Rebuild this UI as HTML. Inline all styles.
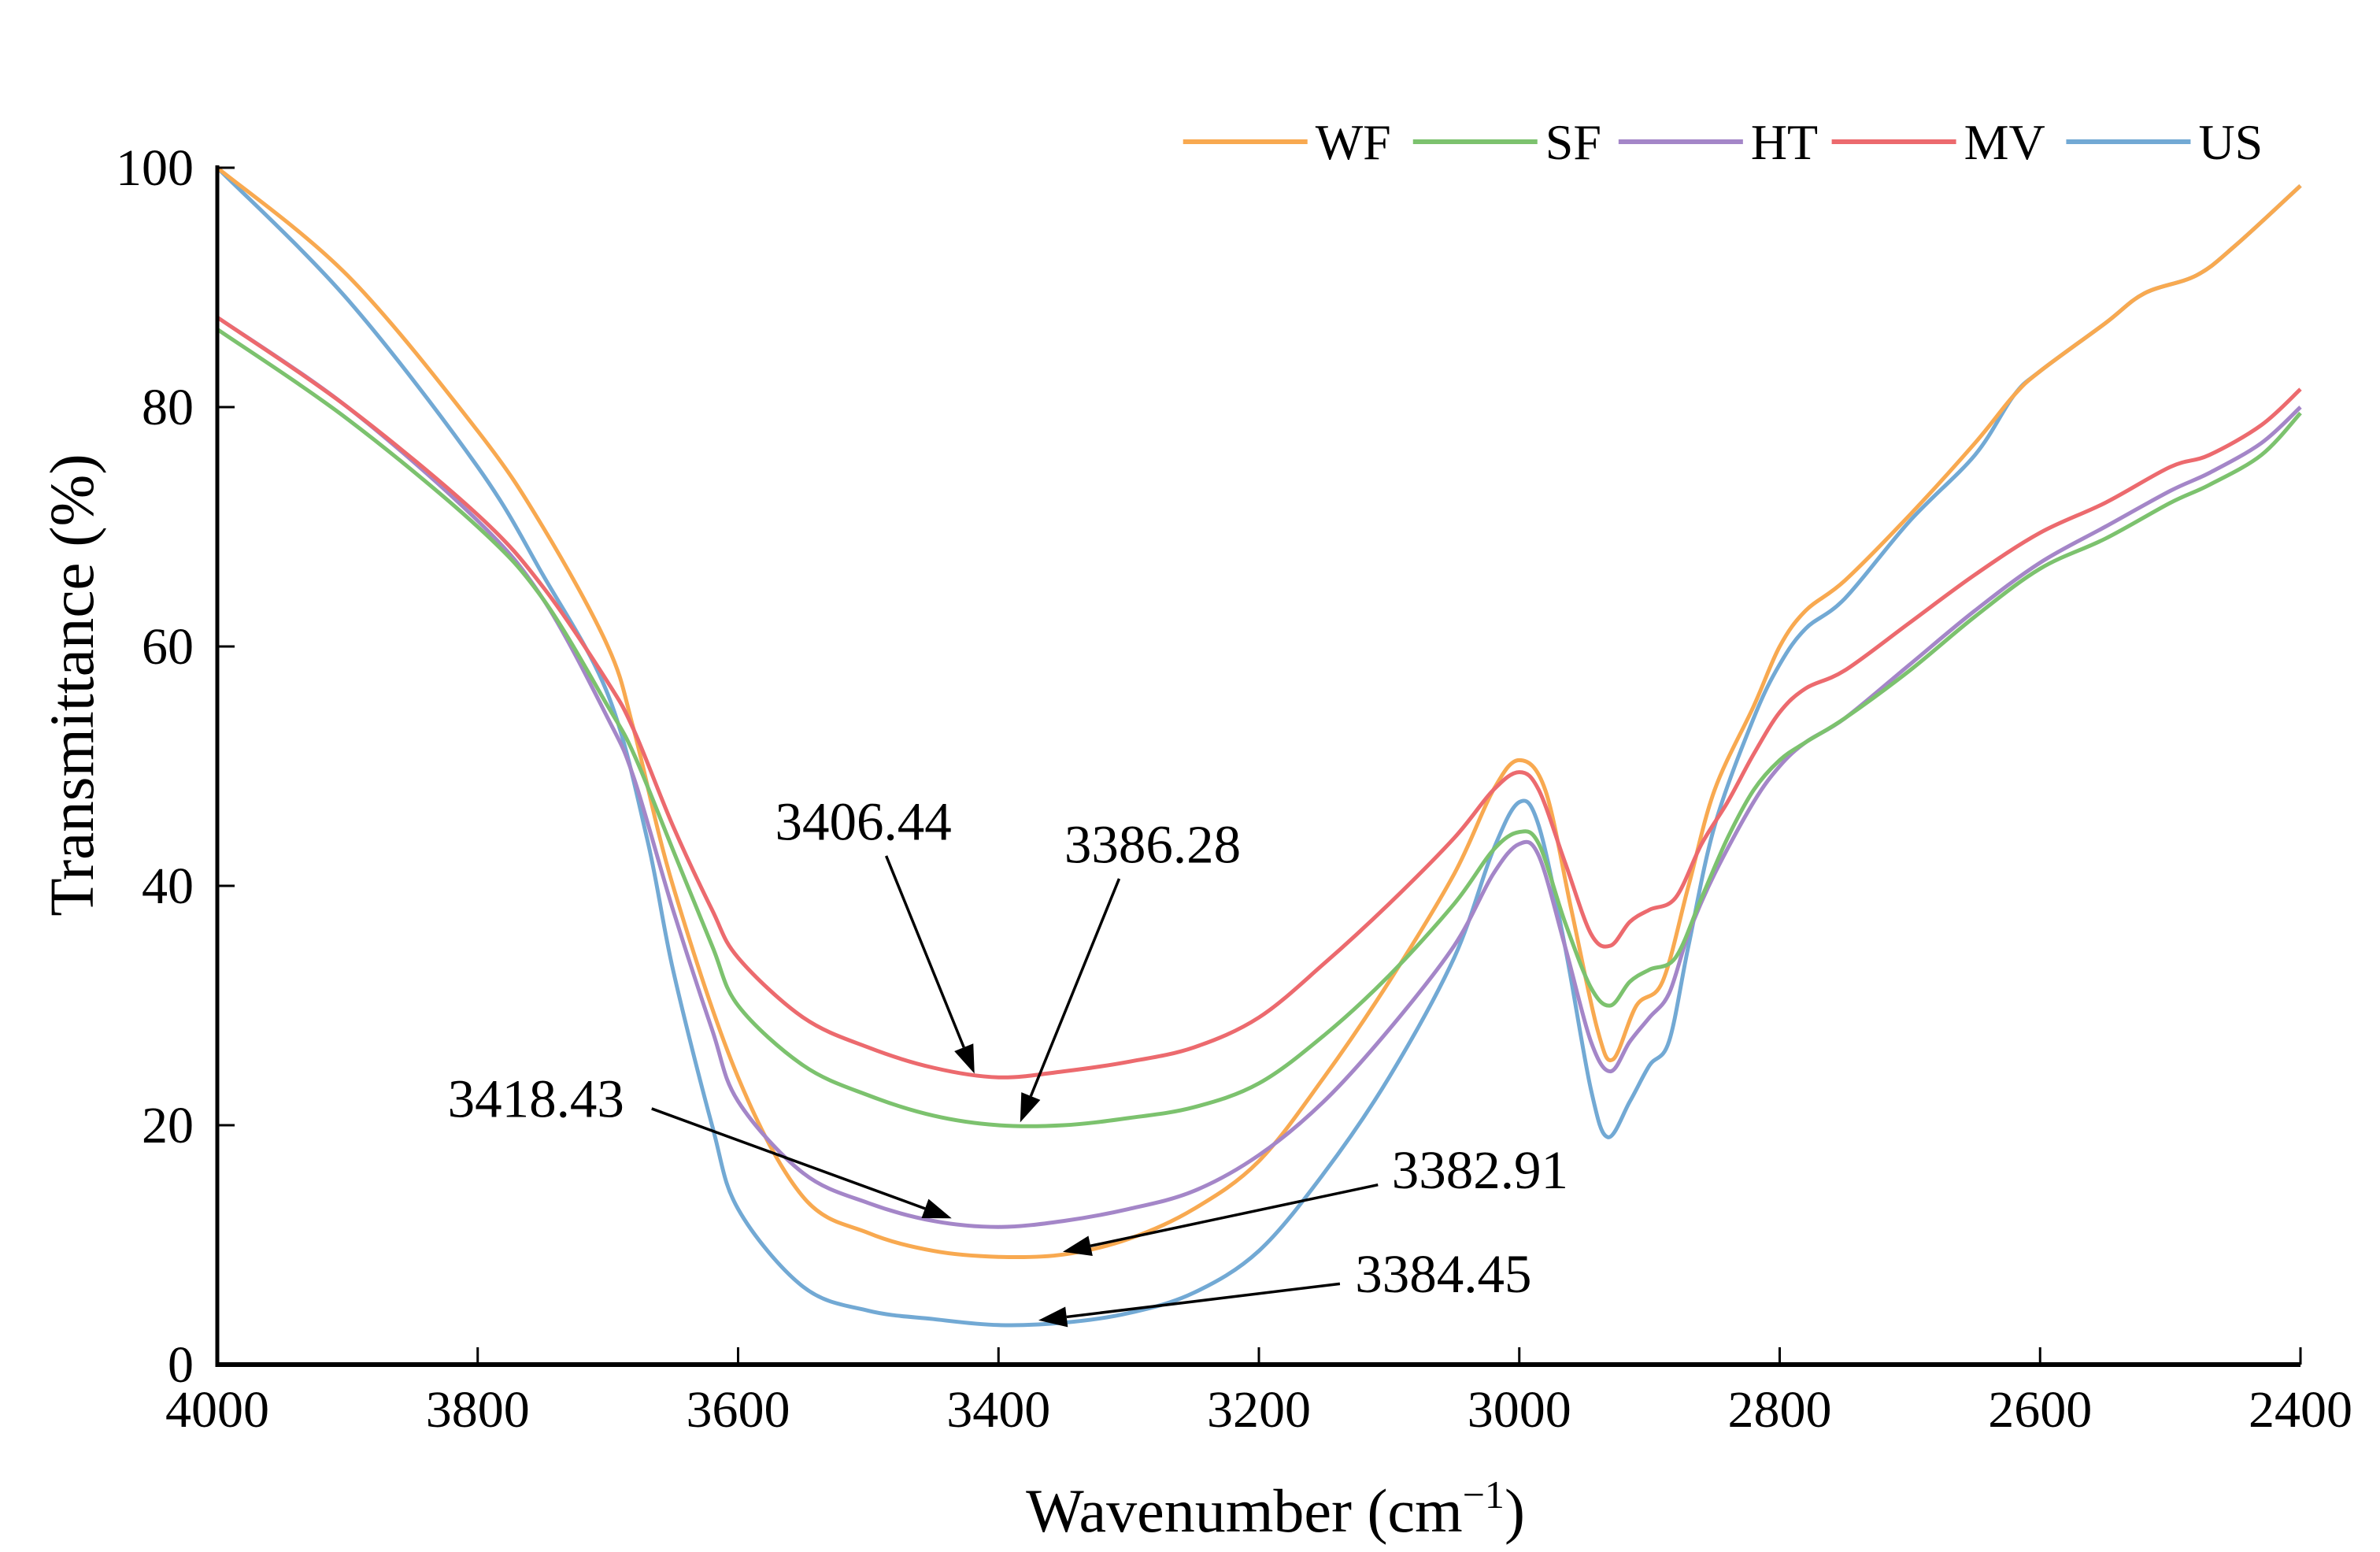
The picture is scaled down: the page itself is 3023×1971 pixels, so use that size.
<!DOCTYPE html>
<html><head><meta charset="utf-8"><style>
html,body{margin:0;padding:0;background:#fff}
svg{display:block}
text{font-family:"Liberation Serif",serif;fill:#000}
</style></head><body>
<svg id="chart" width="3023" height="1971" viewBox="0 0 3023 1971" xmlns="http://www.w3.org/2000/svg">
<g id="series"></g>
<g id="axes"></g>
<g id="ann"></g>
<g id="legend"></g>
</svg>
<script>
const xTicks=[4000,3800,3600,3400,3200,3000,2800,2600,2400];
const yTicks=[0,20,40,60,80,100];
const seriesNames=["WF","SF","HT","MV","US"];
const seriesColors=["#F8A950","#7CC26E","#A486C8","#EC6A6E","#72A9D4"];
const wfX=[4000,3900,3800,3750,3700,3680,3650,3600,3550,3500,3450,3400,3350,3300,3250,3200,3150,3100,3050,3020,3000,2980,2960,2940,2928,2910,2890,2870,2850,2820,2800,2780,2750,2700,2650,2620,2600,2550,2520,2480,2450,2400];
const wfY=[100,91,78,70,60,53,40,24,14,11,9.5,9,9.2,10.5,13,17,24,32,41,48,50.5,48,38,28,25.5,30,32,40,48,55,60,63,65.5,71,77,81,83,87,89.5,91,93.5,98.5];
const usX=[4000,3900,3800,3750,3700,3670,3650,3620,3600,3550,3500,3450,3400,3350,3300,3250,3200,3150,3100,3050,3020,3000,2985,2965,2945,2932,2915,2900,2885,2870,2850,2820,2800,2780,2750,2700,2650,2620,2600,2550,2520,2480,2450,2400];
const usY=[100,89,75,66,56,44,33,20,13,6.5,4.5,3.8,3.3,3.5,4.3,6,9.5,16,24,34,43,47,45,35,23,19,22,25,27,35,45,54,58.5,61.5,64,70.5,76,81,83,87,89.5,91,93.5,98.5];
const mvX=[4000,3900,3800,3750,3700,3680,3650,3620,3600,3550,3500,3450,3400,3350,3300,3250,3200,3150,3100,3050,3020,3000,2985,2965,2945,2930,2915,2900,2880,2860,2840,2820,2800,2780,2750,2700,2650,2600,2550,2500,2470,2430,2400];
const mvY=[87.5,80,71,65,57,53,45,38,34,29,26.5,24.8,24,24.5,25.3,26.5,29,33.5,38.5,44,48,49.5,48,42,36,35,37,38,39,43.5,47,51,54.5,56.5,58,62,66,69.5,72,75,76,78.5,81.5];
const sfX=mvX;
const sfY=[86.5,79,70,64,55,51,43,35,30,25,22.5,20.8,20,20,20.6,21.5,23.5,27.5,32.5,38.5,43,44.5,43.5,37,31.5,30,32,33,34,39,44,48,50.5,52,54,58,62.5,66.5,69,72,73.5,76,79.5];
const htX=[4000,3900,3800,3750,3700,3680,3650,3620,3600,3550,3500,3450,3400,3350,3300,3250,3200,3150,3100,3050,3020,3000,2985,2965,2945,2930,2915,2900,2885,2870,2850,2820,2800,2780,2750,2700,2650,2600,2550,2500,2470,2430,2400];
const htY=[87.5,80,70.5,64,54,49,38,28,22,16,13.5,12,11.5,12,13,14.5,17.5,22,28,35,41,43.5,42.5,35,27,24.5,27,29,31,36,41,47,50,52,54,58.5,63,67,70,73,74.5,77,80];
const annLabels=["3406.44","3386.28","3418.43","3382.91","3384.45"];

const NS="http://www.w3.org/2000/svg";
const X0=276,X1=2922,Y0=1733,Y1=213;
function sx(w){return X0+(4000-w)/(4000-2400)*(X1-X0);}
function sy(v){return Y0-v/100*(Y0-Y1);}
function mk(tag,attrs,parent){const e=document.createElementNS(NS,tag);for(const k in attrs)e.setAttribute(k,attrs[k]);parent.appendChild(e);return e;}
function smooth(pts){let d="M"+pts[0][0].toFixed(1)+","+pts[0][1].toFixed(1);
 for(let i=0;i<pts.length-1;i++){const p0=pts[Math.max(0,i-1)],p1=pts[i],p2=pts[i+1],p3=pts[Math.min(pts.length-1,i+2)];
 const c1=[p1[0]+(p2[0]-p0[0])/6,p1[1]+(p2[1]-p0[1])/6],c2=[p2[0]-(p3[0]-p1[0])/6,p2[1]-(p3[1]-p1[1])/6];
 d+=" C"+c1.map(v=>v.toFixed(1))+" "+c2.map(v=>v.toFixed(1))+" "+p2[0].toFixed(1)+","+p2[1].toFixed(1);}return d;}
const sg=document.getElementById('series');
const data=[[wfX,wfY],[sfX,sfY],[htX,htY],[mvX,mvY],[usX,usY]];
const order=[4,0,2,1,3];
order.forEach(i=>{
 const pts=data[i][0].map((w,j)=>[sx(w),sy(data[i][1][j])]);
 const p=mk('path',{fill:'none',stroke:seriesColors[i],'stroke-width':5,'stroke-linejoin':'round'},sg);
 p.setAttribute('d',"M"+sx(4000)+","+sy(0)+" L"+smooth(pts).slice(1));
 
 
});
const ax=document.getElementById('axes');
let l=mk('line',{x1:X0,y1:Y0,x2:X1,y2:Y0,stroke:'#000','stroke-width':6},ax);


l=mk('line',{x1:X0,y1:Y0+3,x2:X0,y2:Y1-3,stroke:'#000','stroke-width':5},ax);


xTicks.forEach(t=>{const x=sx(t);
 const tk=mk('line',{x1:x,y1:Y0,x2:x,y2:Y0-22,stroke:'#000','stroke-width':3},ax);
 
 
 const tx=mk('text',{x:x,y:1812,'text-anchor':'middle','font-size':66},ax);tx.textContent=t;
 
 });
yTicks.forEach(t=>{const y=sy(t);
 const tk=mk('line',{x1:X0,y1:y,x2:X0+22,y2:y,stroke:'#000','stroke-width':3},ax);
 
 
 const tx=mk('text',{x:246,y:y+22,'text-anchor':'end','font-size':66},ax);tx.textContent=t;
 
 });
let tt=mk('text',{x:1620,y:1945,'text-anchor':'middle','font-size':78},ax);
tt.innerHTML='Wavenumber (cm<tspan dy="-30" font-size="50">−1</tspan><tspan dy="30">)</tspan>';


tt=mk('text',{x:0,y:0,'text-anchor':'middle','font-size':79,transform:'translate(118,870) rotate(-90)'},ax);
tt.textContent='Transmittance (%)';


const S=1.934;
const annText=[[567,540],[757,555],[352,722],[972,769],[948,837]];
const annArrow=[[582,562,640,705],[735,577,670,737],[428,728,625,800],[905,778,698,822],[880,843,682,867]];
const ag=document.getElementById('ann');
annLabels.forEach((s,i)=>{
 const t=mk('text',{x:annText[i][0]*S,y:annText[i][1]*S+22,'text-anchor':'middle','font-size':69},ag);t.textContent=s;
 
 
 const [a,b,c,d]=annArrow[i].map(v=>v*S);
 const ang=Math.atan2(d-b,c-a),L=36,W=13;
 const bx=c-L*Math.cos(ang),by=d-L*Math.sin(ang);
 const ln=mk('line',{x1:a,y1:b,x2:bx,y2:by,stroke:'#000','stroke-width':3.5},ag);
 
 
 const hd=mk('polygon',{points:`${c},${d} ${bx-W*Math.sin(ang)},${by+W*Math.cos(ang)} ${bx+W*Math.sin(ang)},${by-W*Math.cos(ang)}`,fill:'#000'},ag);
 
 
});
const lg=document.getElementById('legend');
const legX=[777,928,1063,1203,1357];
seriesNames.forEach((n,i)=>{
 const x=legX[i]*S,y=180;
 const ln=mk('line',{x1:x,y1:y,x2:x+158,y2:y,stroke:seriesColors[i],'stroke-width':6},lg);
 
 
 const t=mk('text',{x:x+168,y:y+22,'font-size':64},lg);t.textContent=n;
 
 
});
</script>
</body></html>
